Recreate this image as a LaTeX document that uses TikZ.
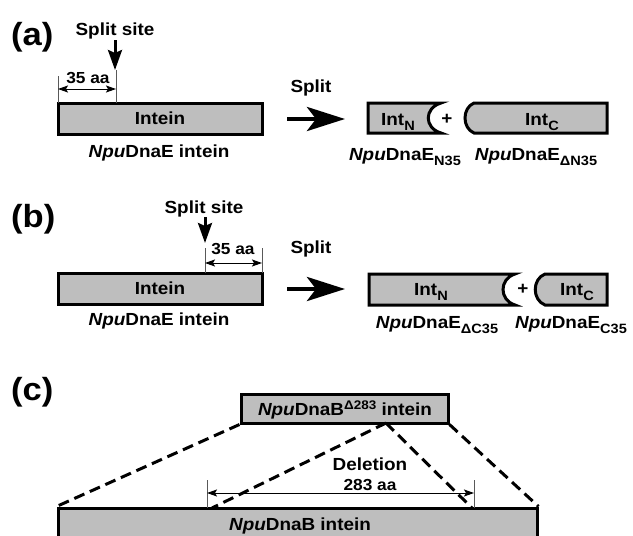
\documentclass[tikz,border=0pt]{standalone}
\usepackage{fontspec}
\setmainfont{Liberation Sans}[FakeStretch=1.08]
\usetikzlibrary{arrows.meta}
\definecolor{boxgray}{RGB}{190,190,190}
% lowered / raised indices in bold sans
\newcommand\lo[1]{\raisebox{-5pt}{\fontsize{13.5}{14}\selectfont #1}}
\newcommand\hi[1]{\raisebox{6pt}{\fontsize{12.5}{13}\selectfont #1}}
\begin{document}
\begin{tikzpicture}[x=1pt,y=-1pt,
  txt/.style={font=\fontsize{17.5}{20}\selectfont\bfseries, inner sep=0pt, anchor=base},
  smalltxt/.style={font=\fontsize{16}{18}\selectfont\bfseries, inner sep=0pt, anchor=base},
  panel/.style={font=\fontsize{32}{36}\selectfont\bfseries, inner sep=0pt, anchor=base west},
  seg/.style={draw=black, line width=3pt, fill=boxgray, line join=miter},
  bar/.style={seg, rectangle, inner sep=0pt},
  bigarrow/.style={line width=4.5pt, -{Stealth[length=38pt,width=24pt,inset=9pt]}},
  sitearrow/.style={line width=3pt, -{Stealth[length=20pt,width=14pt,inset=3pt]}},
  dim/.style={line width=1pt, {Stealth[length=10pt,width=7pt,inset=2pt]}-{Stealth[length=10pt,width=7pt,inset=2pt]}},
  tick/.style={line width=0.8pt, black!65},
  guide/.style={line width=3pt, dash pattern=on 11pt off 6pt}]
\useasboundingbox (0,0) rectangle (633,536);
\clip (0,0) rectangle (633,536);

% ---------------- (a) ----------------
\node[panel] (labA) at (11,45) {(a)};
\node[txt] (siteA) at (115,35) {Split site};
\coordinate (siteAtop) at (115,40);
\coordinate (siteAtip) at (115,70);
\draw[sitearrow] (siteAtop) -- (siteAtip);
\node[bar, minimum width=204pt, minimum height=31pt] (inteinA) at (160,118.5) {};
\node[txt] (inteinAtxt) at (160,124) {Intein};
\node[txt] (nameA) at (159,157) {\textit{Npu}DnaE intein};
\coordinate (tA1a) at (58,76);  \coordinate (tA1b) at (58,103);
\coordinate (tA2a) at (116,70); \coordinate (tA2b) at (116,103);
\draw[tick] (tA1a) -- (tA1b);
\draw[tick] (tA2a) -- (tA2b);
\draw[dim] (58,89) coordinate (dA1) -- (116,89) coordinate (dA2);
\node[smalltxt] (aaA) at (88,83) {35 aa};

\node[txt] (splitA) at (311,92) {Split};
\coordinate (arrA1) at (287,119);
\coordinate (arrA2) at (345,119);
\draw[bigarrow] (arrA1) -- (arrA2);

\draw[seg] (368,103) -- (441,103) .. controls (424,108) and (424,128) .. (441,133) -- (368,133) -- cycle;
\node[txt] (intNA) at (398,125) {Int\lo{N}};
\node[txt, anchor=center] (plusA) at (447,119) {+};
\draw[seg] (474,103) -- (607,103) -- (607,133) -- (474,133) .. controls (462,128) and (462,108) .. (474,103) -- cycle;
\node[txt] (intCA) at (542,125) {Int\lo{C}};
\node[txt] (nN35) at (405,160) {\textit{Npu}DnaE\lo{N35}};
\node[txt] (nDN35) at (536,160) {\textit{Npu}DnaE\lo{ΔN35}};

% ---------------- (b) ----------------
\node[panel] (labB) at (11,227) {(b)};
\node[txt] (siteB) at (204,213) {Split site};
\coordinate (siteBtop) at (205,217);
\coordinate (siteBtip) at (205,243);
\draw[sitearrow] (siteBtop) -- (siteBtip);
\node[bar, minimum width=204pt, minimum height=31pt] (inteinB) at (160,288.5) {};
\node[txt] (inteinBtxt) at (160,294) {Intein};
\node[txt] (nameB) at (159,325) {\textit{Npu}DnaE intein};
\coordinate (tB1a) at (205,248); \coordinate (tB1b) at (205,273);
\coordinate (tB2a) at (262,248); \coordinate (tB2b) at (262,273);
\draw[tick] (tB1a) -- (tB1b);
\draw[tick] (tB2a) -- (tB2b);
\draw[dim] (205,263) coordinate (dB1) -- (262,263) coordinate (dB2);
\node[smalltxt] (aaB) at (233,254) {35 aa};

\node[txt] (splitB) at (311,253) {Split};
\coordinate (arrB1) at (287,289);
\coordinate (arrB2) at (345,289);
\draw[bigarrow] (arrB1) -- (arrB2);

\draw[seg] (369,274) -- (515,274) .. controls (499,279) and (499,300) .. (515,305) -- (369,305) -- cycle;
\node[txt] (intNB) at (431,295) {Int\lo{N}};
\node[txt, anchor=center] (plusB) at (523,289) {+};
\draw[seg] (545,274) -- (607,274) -- (607,305) -- (545,305) .. controls (532,300) and (532,279) .. (545,274) -- cycle;
\node[txt] (intCB) at (577,295) {Int\lo{C}};
\node[txt] (nDC35) at (437,328) {\textit{Npu}DnaE\lo{ΔC35}};
\node[txt] (nC35) at (571,328) {\textit{Npu}DnaE\lo{C35}};

% ---------------- (c) ----------------
\node[panel] (labC) at (11,400) {(c)};
\node[bar, minimum width=207pt, minimum height=29pt] (topbox) at (344.5,408.5) {};
\node[txt] (toptxt) at (345,415) {\textit{Npu}DnaB\hi{Δ283} intein};
\node[bar, minimum width=479pt, minimum height=50pt] (botbox) at (297.5,533) {};
\node[txt] (bottxt) at (300,530) {\textit{Npu}DnaB intein};

\coordinate (apex) at (386,423);
\coordinate (cutL) at (212,508);
\coordinate (cutR) at (472,508);
\draw[guide] (topbox.south west) -- (botbox.north west);
\draw[guide] (topbox.south east) -- (botbox.north east);
\draw[guide] (apex) -- (cutL);
\draw[guide] (apex) -- (cutR);

\coordinate (tC1a) at (207,480); \coordinate (tC1b) at (207,508);
\coordinate (tC2a) at (474,480); \coordinate (tC2b) at (474,508);
\draw[tick] (tC1a) -- (tC1b);
\draw[tick] (tC2a) -- (tC2b);
\draw[dim] (207,493) coordinate (dC1) -- (474,493) coordinate (dC2);
\node[txt] (deltxt) at (370,470) {Deletion};
\node[smalltxt] (aaC) at (370,490) {283 aa};
\end{tikzpicture}
\end{document}
